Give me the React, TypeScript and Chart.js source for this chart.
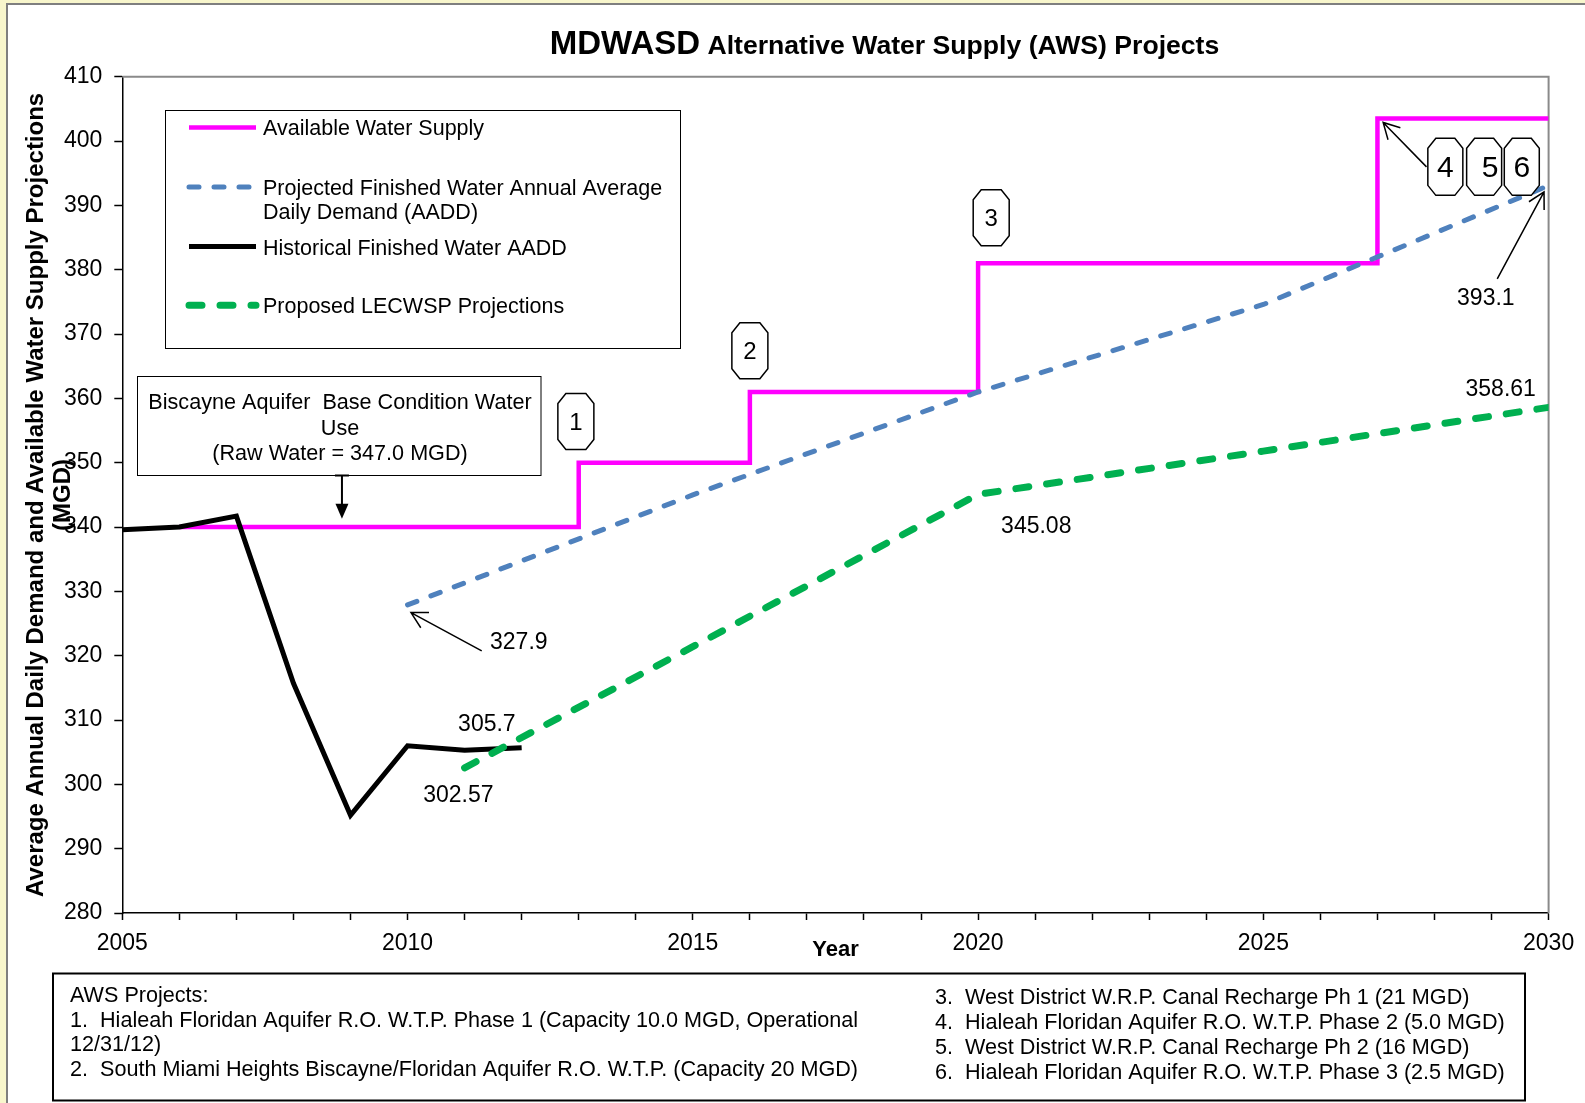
import { useEffect, useRef } from 'react';
import { Chart, registerables } from 'chart.js';

Chart.register(...registerables);

const FONT = "'Liberation Sans', Arial, Helvetica, sans-serif";

// ---- Data ----
const supplyYears = [2006, 2013, 2016, 2020, 2027, 2030];
const supplyValues = [340, 350, 361, 381, 403.5, 403.5];

const demandYears = [2010, 2015, 2020, 2025, 2030];
const demandValues = [327.9, 345.0, 361.0, 374.6, 393.1];

const historicalYears = [2005, 2006, 2007, 2008, 2009, 2010, 2011, 2012];
const historicalValues = [339.6, 340.0, 341.7, 315.7, 295.2, 306.0, 305.3, 305.7];

const lecwspYears = [2011, 2015, 2020, 2025, 2030];
const lecwspValues = [302.57, 321.4, 345.08, 351.8, 358.61];

const xTickLabels = ['2005', '2010', '2015', '2020', '2025', '2030'];

const chartTitleBold = 'MDWASD';
const chartTitleRest = ' Alternative Water Supply (AWS) Projects';
const yAxisTitle = ['Average Annual Daily Demand and Available Water Supply Projections', '(MGD)'];
const xAxisTitle = 'Year';

const legendItems = [
  { dataset: 0, lines: ['Available Water Supply'] },
  { dataset: 1, lines: ['Projected Finished Water Annual Average', 'Daily Demand (AADD)'] },
  { dataset: 2, lines: ['Historical Finished Water AADD'] },
  { dataset: 3, lines: ['Proposed LECWSP Projections'] },
];

const baseConditionLines = ['Biscayne Aquifer  Base Condition Water', 'Use', '(Raw Water = 347.0 MGD)'];

// value labels, anchored in data space (year, MGD)
const valueLabels = [
  { text: '327.9', year: 2011.95, mgd: 322.3 },
  { text: '305.7', year: 2011.39, mgd: 309.5 },
  { text: '302.57', year: 2010.89, mgd: 298.5 },
  { text: '345.08', year: 2021.02, mgd: 340.3 },
  { text: '358.61', year: 2029.16, mgd: 361.6 },
  { text: '393.1', year: 2028.9, mgd: 375.8 },
];

// project number badges, anchored in data space
const projectBadges = [
  { text: '1', year: 2012.95, mgd: 356.4, big: false },
  { text: '2', year: 2016.0, mgd: 367.4, big: false },
  { text: '3', year: 2020.23, mgd: 388.1, big: false },
  { text: '4', year: 2028.19, mgd: 396.0, big: true },
  { text: '5', year: 2028.87, mgd: 396.0, big: true },
  { text: '6', year: 2029.53, mgd: 396.0, big: true },
];

// pointer arrows (tail -> tip) in data space
const pointerArrows = [
  { fromYear: 2011.3, fromMgd: 320.75, toYear: 2010.06, toMgd: 326.7 },
  { fromYear: 2027.86, fromMgd: 396.0, toYear: 2027.1, toMgd: 402.9 },
  { fromYear: 2029.1, fromMgd: 378.6, toYear: 2029.92, toMgd: 392.1 },
];

const awsLeftLines = [
  'AWS Projects:',
  '1.  Hialeah Floridan Aquifer R.O. W.T.P. Phase 1 (Capacity 10.0 MGD, Operational',
  '12/31/12)',
  '2.  South Miami Heights Biscayne/Floridan Aquifer R.O. W.T.P. (Capacity 20 MGD)',
];
const awsRightLines = [
  '3.  West District W.R.P. Canal Recharge Ph 1 (21 MGD)',
  '4.  Hialeah Floridan Aquifer R.O. W.T.P. Phase 2 (5.0 MGD)',
  '5.  West District W.R.P. Canal Recharge Ph 2 (16 MGD)',
  '6.  Hialeah Floridan Aquifer R.O. W.T.P. Phase 3 (2.5 MGD)',
];

const toPoints = (xs: number[], ys: number[]) => xs.map((x, i) => ({ x, y: ys[i] }));

function openArrow(ctx: CanvasRenderingContext2D, x1: number, y1: number, x2: number, y2: number) {
  ctx.save();
  ctx.strokeStyle = '#000';
  ctx.lineWidth = 1.5;
  ctx.beginPath();
  ctx.moveTo(x1, y1);
  ctx.lineTo(x2, y2);
  const a = Math.atan2(y1 - y2, x1 - x2);
  const L = 18;
  const s = 0.5;
  ctx.moveTo(x2 + L * Math.cos(a + s), y2 + L * Math.sin(a + s));
  ctx.lineTo(x2, y2);
  ctx.lineTo(x2 + L * Math.cos(a - s), y2 + L * Math.sin(a - s));
  ctx.stroke();
  ctx.restore();
}

function octagon(ctx: CanvasRenderingContext2D, cx: number, cy: number, w: number, h: number) {
  const l = cx - w / 2, r = cx + w / 2, t = cy - h / 2, b = cy + h / 2;
  const c = 8, v = 10;
  ctx.beginPath();
  ctx.moveTo(l + c, t);
  ctx.lineTo(r - c, t);
  ctx.lineTo(r, t + v);
  ctx.lineTo(r, b - v);
  ctx.lineTo(r - c, b);
  ctx.lineTo(l + c, b);
  ctx.lineTo(l, b - v);
  ctx.lineTo(l, t + v);
  ctx.closePath();
  ctx.fillStyle = '#fff';
  ctx.fill();
  ctx.strokeStyle = '#000';
  ctx.lineWidth = 1.5;
  ctx.stroke();
}

export default function App() {
  const ref = useRef<HTMLCanvasElement>(null);

  useEffect(() => {
    const canvas = ref.current;
    if (!canvas) return;

    const decor = {
      id: 'decor',
      beforeDraw(chart: any) {
        const ctx: CanvasRenderingContext2D = chart.ctx;
        const W = chart.width, H = chart.height;
        ctx.save();
        ctx.fillStyle = '#F8F6CC';
        ctx.fillRect(0, 0, W, H);
        ctx.fillStyle = '#ffffff';
        ctx.fillRect(7, 4, W - 7, H - 4);
        ctx.fillStyle = '#7f7f7f';
        ctx.fillRect(6, 3, W - 6, 2);
        ctx.fillRect(6, 3, 2, H - 3);
        ctx.restore();
      },
      beforeDatasetsDraw(chart: any) {
        const ctx: CanvasRenderingContext2D = chart.ctx;
        const a = chart.chartArea;
        ctx.save();
        ctx.strokeStyle = '#8a8a8a';
        ctx.lineWidth = 2;
        ctx.beginPath();
        ctx.moveTo(a.left, a.top);
        ctx.lineTo(a.right, a.top);
        ctx.lineTo(a.right, a.bottom);
        ctx.stroke();
        ctx.restore();
      },
      afterDraw(chart: any) {
        const ctx: CanvasRenderingContext2D = chart.ctx;
        const xs = chart.scales.x, ys = chart.scales.y;
        const X = (v: number) => xs.getPixelForValue(v);
        const Y = (v: number) => ys.getPixelForValue(v);
        ctx.save();

        // Title
        ctx.fillStyle = '#000';
        ctx.textBaseline = 'alphabetic';
        ctx.textAlign = 'left';
        ctx.font = `bold 33px ${FONT}`;
        const w1 = ctx.measureText(chartTitleBold).width;
        ctx.font = `bold 26.6px ${FONT}`;
        const w2 = ctx.measureText(chartTitleRest).width;
        const tx = 884.5 - (w1 + w2) / 2;
        ctx.font = `bold 33px ${FONT}`;
        ctx.fillText(chartTitleBold, tx, 54);
        ctx.font = `bold 26.6px ${FONT}`;
        ctx.fillText(chartTitleRest, tx + w1, 54);

        // Legend box
        ctx.fillStyle = '#fff';
        ctx.fillRect(165, 110, 515, 238);
        ctx.strokeStyle = '#000';
        ctx.lineWidth = 1;
        ctx.strokeRect(165.5, 110.5, 515, 238);
        const rowY = [127.4, 187, 246.6, 305.3];
        legendItems.forEach((it, i) => {
          const ds = chart.data.datasets[it.dataset];
          const y = rowY[i];
          ctx.save();
          ctx.strokeStyle = ds.borderColor;
          ctx.lineWidth = ds.borderWidth;
          ctx.lineCap = ds.borderCapStyle || 'butt';
          ctx.setLineDash(ds.borderDash || []);
          ctx.beginPath();
          ctx.moveTo(189, y);
          ctx.lineTo(256, y);
          ctx.stroke();
          ctx.restore();
          ctx.fillStyle = '#000';
          ctx.font = `21.5px ${FONT}`;
          ctx.textBaseline = 'middle';
          ctx.textAlign = 'left';
          it.lines.forEach((ln, j) => ctx.fillText(ln, 263, y + 2 + j * 24.3));
        });

        // Base condition box
        ctx.fillStyle = '#fff';
        ctx.fillRect(137.5, 376, 403.5, 99);
        ctx.strokeStyle = '#000';
        ctx.lineWidth = 1;
        ctx.strokeRect(137.5, 376.5, 403.5, 99);
        ctx.fillStyle = '#000';
        ctx.font = `21.6px ${FONT}`;
        ctx.textAlign = 'center';
        ctx.textBaseline = 'middle';
        baseConditionLines.forEach((ln, j) => ctx.fillText(ln, 340, 403.5 + j * 25.3));
        // filled arrow down to the supply line
        const ax = X(2008.85);
        const tipY = Y(341.3);
        ctx.strokeStyle = '#000';
        ctx.lineWidth = 2;
        ctx.beginPath();
        ctx.moveTo(ax, 475.5);
        ctx.lineTo(ax, tipY - 12);
        ctx.moveTo(ax - 7, 475.5);
        ctx.lineTo(ax + 7, 475.5);
        ctx.stroke();
        ctx.beginPath();
        ctx.moveTo(ax - 6.5, tipY - 15);
        ctx.lineTo(ax + 6.5, tipY - 15);
        ctx.lineTo(ax, tipY);
        ctx.closePath();
        ctx.fill();

        // pointer arrows
        pointerArrows.forEach((a) => openArrow(ctx, X(a.fromYear), Y(a.fromMgd), X(a.toYear), Y(a.toMgd)));

        // badges
        projectBadges.forEach((b) => {
          const cx = X(b.year), cy = Y(b.mgd);
          octagon(ctx, cx, cy, b.big ? 35 : 36, b.big ? 57 : 56);
          ctx.fillStyle = '#000';
          ctx.font = `${b.big ? 30 : 24}px ${FONT}`;
          ctx.textAlign = 'center';
          ctx.textBaseline = 'middle';
          ctx.fillText(b.text, cx + (b.text === '5' ? 6 : 0), cy + 2);
        });

        // value labels
        ctx.fillStyle = '#000';
        ctx.font = `23px ${FONT}`;
        ctx.textAlign = 'center';
        ctx.textBaseline = 'middle';
        valueLabels.forEach((l) => ctx.fillText(l.text, X(l.year), Y(l.mgd) + 1.5));

        // AWS projects box
        ctx.fillStyle = '#fff';
        ctx.fillRect(53, 973.5, 1472, 127);
        ctx.strokeStyle = '#000';
        ctx.lineWidth = 2;
        ctx.strokeRect(53, 973.5, 1472, 127);
        ctx.fillStyle = '#000';
        ctx.font = `21.6px ${FONT}`;
        ctx.textAlign = 'left';
        ctx.textBaseline = 'middle';
        awsLeftLines.forEach((ln, j) => ctx.fillText(ln, 70, 996 + j * 24.7));
        awsRightLines.forEach((ln, j) => ctx.fillText(ln, 935, 998 + j * 25));

        ctx.restore();
      },
    };

    const chart = new Chart(canvas, {
      type: 'line',
      data: {
        datasets: [
          {
            label: 'Available Water Supply',
            data: toPoints(supplyYears, supplyValues),
            borderColor: '#FF00FF',
            backgroundColor: '#FF00FF',
            borderWidth: 4.5,
            stepped: 'before',
            pointRadius: 0,
            borderCapStyle: 'butt',
            order: 3,
          },
          {
            label: 'Projected Finished Water Annual Average Daily Demand (AADD)',
            data: toPoints(demandYears, demandValues),
            borderColor: '#4F81BD',
            backgroundColor: '#4F81BD',
            borderWidth: 5,
            borderDash: [10, 15],
            borderCapStyle: 'round',
            pointRadius: 0,
            order: 1,
          },
          {
            label: 'Historical Finished Water AADD',
            data: toPoints(historicalYears, historicalValues),
            borderColor: '#000000',
            backgroundColor: '#000000',
            borderWidth: 5,
            pointRadius: 0,
            borderCapStyle: 'butt',
            order: 2,
          },
          {
            label: 'Proposed LECWSP Projections',
            data: toPoints(lecwspYears, lecwspValues),
            borderColor: '#00B050',
            backgroundColor: '#00B050',
            borderWidth: 7,
            borderDash: [13, 18],
            borderCapStyle: 'round',
            pointRadius: 0,
            order: 0,
          },
        ] as any,
      },
      options: {
        responsive: false,
        animation: false,
        devicePixelRatio: 1,
        layout: { padding: { top: 76.8, right: 36.4, bottom: 140, left: 0 } },
        plugins: {
          legend: { display: false },
          tooltip: { enabled: false },
          title: { display: false },
        },
        scales: {
          x: {
            type: 'linear',
            position: 'bottom',
            min: 2005,
            max: 2030,
            afterFit: (s: any) => {
              s.height = 50;
            },
            grid: {
              drawOnChartArea: false,
              drawTicks: true,
              tickLength: 7,
              tickColor: '#000',
              tickWidth: 1.5,
              color: '#000',
            },
            border: { display: true, color: '#000', width: 1.5 },
            ticks: {
              stepSize: 1,
              autoSkip: false,
              maxRotation: 0,
              padding: 10,
              color: '#000',
              font: { family: FONT, size: 23 },
              callback: (v: any) => {
                const s = String(v);
                return xTickLabels.includes(s) ? s : '';
              },
            },
            title: {
              display: true,
              text: xAxisTitle,
              color: '#000',
              font: { family: FONT, size: 22, weight: 'bold' },
              padding: { top: 0, bottom: 0 },
            },
          },
          y: {
            type: 'linear',
            min: 280,
            max: 410,
            afterFit: (s: any) => {
              s.width = 122.3;
            },
            grid: {
              drawOnChartArea: false,
              drawTicks: true,
              tickLength: 8,
              tickColor: '#000',
              tickWidth: 1.5,
              color: '#000',
            },
            border: { display: true, color: '#000', width: 1.5 },
            ticks: {
              stepSize: 10,
              padding: 12,
              color: '#000',
              font: { family: FONT, size: 23 },
              callback: (v: any) => String(v),
            },
            title: {
              display: true,
              text: yAxisTitle,
              color: '#000',
              font: { family: FONT, size: 24, weight: 'bold', lineHeight: 1.125 },
              padding: { top: 22.5, bottom: 0 },
            },
          },
        },
      } as any,
      plugins: [decor],
    });

    return () => chart.destroy();
  }, []);

  return (
    <div style={{ position: 'absolute', left: 0, top: 0, width: 1585, height: 1103 }}>
      <canvas ref={ref} width={1585} height={1103} style={{ display: 'block', width: 1585, height: 1103 }} />
    </div>
  );
}
